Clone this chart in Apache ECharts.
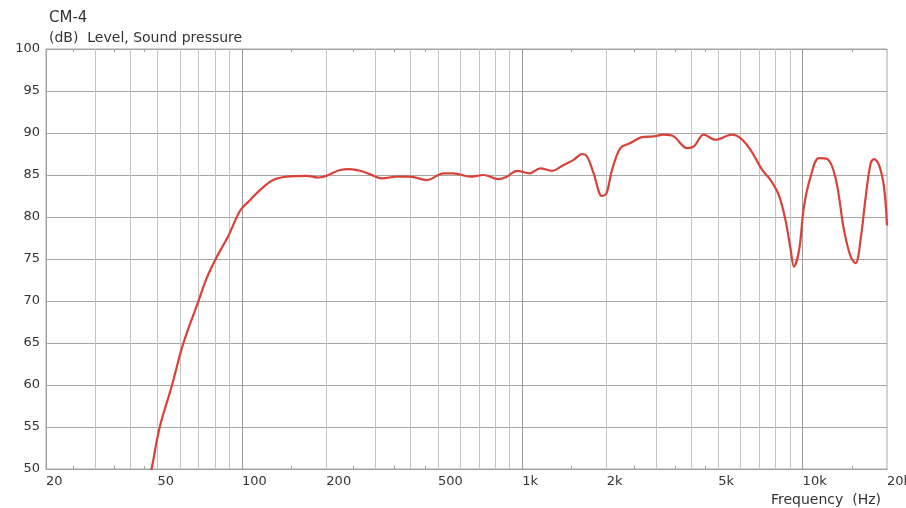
<!DOCTYPE html>
<html>
<head>
<meta charset="utf-8">
<script src="https://cdn.jsdelivr.net/npm/echarts@6/dist/echarts.min.js"></script>
<style>html,body{margin:0;padding:0;background:#fff;overflow:hidden}#c{width:906px;height:508px}</style>
</head>
<body>
<div id="c"></div>
<script>
var freqs = [44.5, 47.6, 50.9, 56.1, 61.7, 69.8, 74.8, 81.2, 89.3, 98.7, 106.8, 115.9, 129.3, 144.4, 170, 187, 200, 224, 242, 264, 286, 316, 357, 398, 457, 524, 568, 652, 727, 822, 881, 957, 1060, 1159, 1277, 1404, 1525, 1634, 1702, 1797, 1925, 1996, 2090, 2239, 2429, 2669, 2944, 3196, 3467, 3873, 4096, 4441, 4887, 5612, 6005, 6520, 7178, 7690, 8226, 8692, 9067, 9310, 9720, 10108, 10680, 11430, 12245, 13115, 14040, 14830, 15450, 16100, 16790, 17490, 17970, 18720, 19510, 20000];
var spl = [45.5, 50.0, 55.0, 59.8, 64.9, 69.9, 72.7, 75.2, 77.7, 80.8, 82.0, 83.2, 84.4, 84.8, 84.9, 84.7, 84.9, 85.6, 85.7, 85.5, 85.1, 84.6, 84.8, 84.8, 84.4, 85.2, 85.2, 84.8, 85.0, 84.5, 84.8, 85.5, 85.2, 85.8, 85.5, 86.2, 86.8, 87.5, 87.2, 85.2, 82.5, 82.8, 85.6, 88.2, 88.8, 89.5, 89.6, 89.8, 89.6, 88.2, 88.4, 89.8, 89.2, 89.8, 89.4, 88.0, 85.6, 84.4, 82.6, 79.6, 76.1, 74.1, 76.1, 81.2, 84.8, 87.0, 86.9, 84.6, 78.5, 75.3, 74.5, 77.3, 82.4, 86.4, 86.9, 86.2, 83.6, 79.0];
var xLabelValues = [20, 50, 100, 200, 500, 1000, 2000, 5000, 10000, 20000];
var minorTickValues = [25, 35, 45, 150, 250, 350, 450, 1500, 2500, 3500, 4500, 15000];
var gridMinor = [30, 40, 50, 60, 70, 80, 90, 200, 300, 400, 500, 600, 700, 800, 900, 2000, 3000, 4000, 5000, 6000, 7000, 8000, 9000];
var gridMajor = [100, 1000, 10000];

var FONT = 'DejaVu Sans';
function fmt(v) {
  if (v >= 1000) return (v / 1000) + 'k';
  return String(v);
}
var lineData = freqs.map(function (f, i) { return [f, spl[i]]; });
var mlData = gridMinor.map(function (v) {
  return { xAxis: v, lineStyle: { color: '#c4c4c4', width: 1, type: 'solid' } };
}).concat(gridMajor.map(function (v) {
  return { xAxis: v, lineStyle: { color: '#9a9a9a', width: 1, type: 'solid' } };
}));

var chart = echarts.init(document.getElementById('c'), null, { renderer: 'canvas' });
chart.setOption({
  animation: false,
  backgroundColor: '#ffffff',
  textStyle: { fontFamily: FONT },
  title: [
    { text: 'CM-4', left: 44, top: 6, textStyle: { fontFamily: FONT, fontSize: 15, fontWeight: 'normal', color: '#333' } },
    { text: '(dB)  Level, Sound pressure', left: 44, top: 26, textStyle: { fontFamily: FONT, fontSize: 14, fontWeight: 'normal', color: '#333' } },
    { text: 'Frequency  (Hz)', right: 20, top: 488, textStyle: { fontFamily: FONT, fontSize: 14, fontWeight: 'normal', color: '#333' } }
  ],
  grid: { left: 46, right: 19, top: 49, bottom: 39, containLabel: false, outerBoundsMode: 'none', show: true, borderColor: '#a8a8a8', borderWidth: 1 },
  xAxis: [
    {
      type: 'log', logBase: 10, min: 20, max: 20000, position: 'bottom',
      axisLine: { show: true, lineStyle: { color: '#a0a0a0' } },
      axisTick: { show: true, inside: true, length: 3, customValues: minorTickValues, lineStyle: { color: '#a0a0a0' } },
      axisLabel: { show: true, customValues: xLabelValues, formatter: fmt, align: 'left', margin: 6, fontFamily: FONT, fontSize: 13, color: '#333', hideOverlap: false },
      splitLine: { show: false },
      minorTick: { show: false }, minorSplitLine: { show: false }
    },
    {
      type: 'log', logBase: 10, min: 20, max: 20000, position: 'top',
      axisLine: { show: true, lineStyle: { color: '#a0a0a0' } },
      axisTick: { show: true, inside: true, length: 3, customValues: minorTickValues, lineStyle: { color: '#a0a0a0' } },
      axisLabel: { show: false },
      splitLine: { show: false }
    }
  ],
  yAxis: {
    type: 'value', min: 50, max: 100, interval: 5,
    axisLine: { show: true, lineStyle: { color: '#a0a0a0' } },
    axisTick: { show: false },
    axisLabel: { margin: 6, fontFamily: FONT, fontSize: 13, color: '#333' },
    splitLine: { show: true, lineStyle: { color: '#a6a6a6', width: 1 } }
  },
  series: [
    {
      type: 'line', xAxisIndex: 0, data: lineData, showSymbol: false, smooth: 0.35,
      clip: true,
      lineStyle: { color: '#d8423a', width: 2.2 },
      z: 5,
      markLine: { silent: true, symbol: ['none', 'none'], label: { show: false }, animation: false, data: mlData, z: 1 }
    }
  ]
});
</script>
</body>
</html>
